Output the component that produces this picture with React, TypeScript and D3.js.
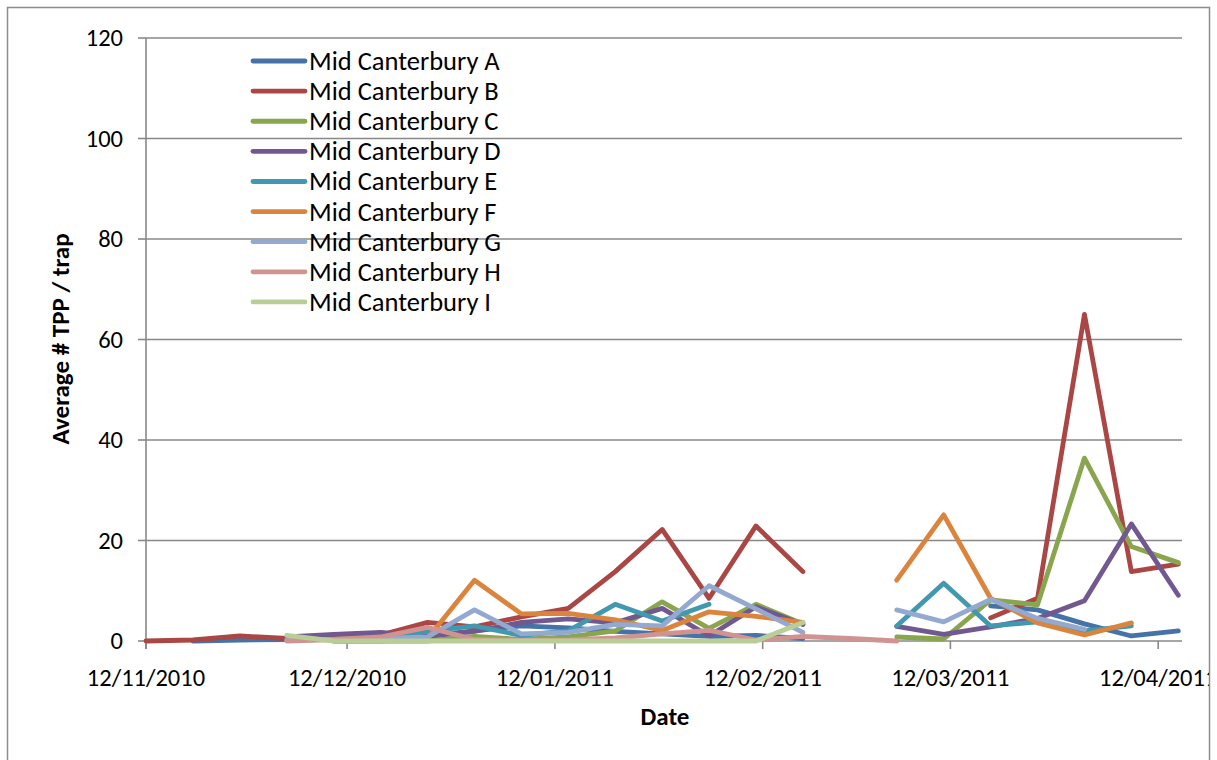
import React from 'react';
import * as d3 from 'd3';

const dates = [
  "2010-11-12", "2010-11-19", "2010-11-26", "2010-12-03", "2010-12-10", "2010-12-17",
  "2010-12-24", "2010-12-31", "2011-01-07", "2011-01-14", "2011-01-21", "2011-01-28",
  "2011-02-04", "2011-02-11", "2011-02-18", "2011-02-25", "2011-03-04", "2011-03-11",
  "2011-03-18", "2011-03-25", "2011-04-01", "2011-04-08", "2011-04-15",
];

const seriesNames = [
  "Mid Canterbury A", "Mid Canterbury B", "Mid Canterbury C", "Mid Canterbury D",
  "Mid Canterbury E", "Mid Canterbury F", "Mid Canterbury G", "Mid Canterbury H",
  "Mid Canterbury I",
];

const seriesA = [null, 0, 0.2, 0.3, 0.5, 0.5, 1.0, 2.0, 3.0, 2.6, 1.9, 1.4, 0.9, 1.1, 0.5, null, null, null, 7.0, 6.2, 3.4, 1.0, 2.0];
const seriesB = [0, 0.2, 1.0, 0.5, 0.6, 1.2, 3.7, 2.8, 4.8, 6.5, 13.8, 22.2, 8.5, 22.9, 13.8, null, null, null, 4.6, 8.5, 65, 13.8, 15.3];
const seriesC = [null, null, null, null, 0, 0, 0, 0.9, 0.3, 0.8, 2.0, 7.8, 2.5, 7.3, 3.4, null, 0.8, 0.4, 8.2, 7.2, 36.4, 18.8, 15.6];
const seriesD = [null, null, null, 0.8, 1.3, 1.7, 0.9, 1.9, 3.7, 4.4, 3.6, 6.5, 1.0, 6.8, 3.3, null, 2.9, 1.3, 2.8, 4.5, 8.0, 23.3, 9.1];
const seriesE = [null, null, null, null, 0.3, 0.5, 1.9, 3.0, 1.1, 2.0, 7.3, 4.0, 7.3, null, null, null, 3.0, 11.5, 3.0, 3.8, 2.0, 3.0, null];
const seriesF = [null, null, null, null, 0, 0, 0.5, 12.1, 5.4, 5.5, 4.2, 2.1, 5.8, 4.9, 3.7, null, 12.1, 25.1, 8.5, 3.6, 1.2, 3.6, null];
const seriesG = [null, null, null, 0.2, 0.3, 0.5, 0.8, 6.2, 1.4, 1.7, 3.3, 3.0, 11.0, 6.4, 1.7, null, 6.2, 3.8, 8.3, 4.5, 2.3, null, null];
const seriesH = [null, null, null, 0, 0.3, 0.8, 2.7, 0.3, 0.1, 0.2, 0.6, 1.4, 2.1, 0.2, 0.9, 0.5, 0, null, null, null, null, null, null];
const seriesI = [null, null, null, 1.1, 0, 0, 0, 0, 0, 0, 0, 0, 0, 0, 3.7, null, null, null, null, null, null, null, null];

const seriesValues = [seriesA, seriesB, seriesC, seriesD, seriesE, seriesF, seriesG, seriesH, seriesI];

const seriesColors = [
  "#4572A7", "#AA4643", "#89A54E", "#71588F", "#4198AF",
  "#DB843D", "#93A9CF", "#D19392", "#B9CD96",
];

const yTicks = [0, 20, 40, 60, 80, 100, 120];
const xTickDates = ["2010-11-12", "2010-12-12", "2011-01-12", "2011-02-12", "2011-03-12", "2011-04-12"];
const xDomain = ["2010-11-12", "2011-04-16"];

const FONT = "Carlito, Calibri, Lato, 'Open Sans', sans-serif";

export default function App() {
  const parse = d3.timeParse("%Y-%m-%d");
  const fmt = d3.timeFormat("%d/%m/%Y");
  const left = 146;
  const plotRight = 1182;
  const x = d3.scaleTime()
    .domain([parse(xDomain[0]) as Date, parse(xDomain[1]) as Date])
    .range([left, 1185]);
  const y = d3.scaleLinear().domain([0, 120]).range([641, 38]);

  const line = d3.line<{ d: Date; v: number | null }>()
    .defined((p) => p.v !== null && p.v !== undefined)
    .x((p) => x(p.d))
    .y((p) => y(p.v as number));

  const parsedDates = dates.map((s) => parse(s) as Date);
  const gridColor = "#888888";

  return (
    <svg
      width={1217}
      height={760}
      style={{ position: "absolute", left: 0, top: 0, background: "#fff" }}
      fontFamily={FONT}
    >
      <defs>
        <clipPath id="frameClip">
          <rect x={0} y={0} width={1209} height={760} />
        </clipPath>
      </defs>
      <rect x={0} y={0} width={1217} height={760} fill="#fff" />
      <rect x={7.5} y={7.5} width={1202} height={770} fill="none" stroke="#8c8c8c" strokeWidth={1.5} />

      {/* gridlines */}
      {yTicks.map((t) => (
        <g key={"g" + t}>
          <line x1={left} x2={plotRight} y1={y(t)} y2={y(t)} stroke={gridColor} strokeWidth={1.6} />
          <line x1={left - 8} x2={left} y1={y(t)} y2={y(t)} stroke={gridColor} strokeWidth={1.6} />
          <text x={123} y={y(t)} textAnchor="end" dominantBaseline="central" fontSize={24.5} fill="#000">
            {t}
          </text>
        </g>
      ))}
      {/* y axis */}
      <line x1={left} x2={left} y1={y(120)} y2={y(0) + 8} stroke={gridColor} strokeWidth={1.6} />

      {/* x ticks */}
      <g clipPath="url(#frameClip)">
        {xTickDates.map((s) => {
          const d = parse(s) as Date;
          return (
            <g key={s}>
              <line x1={x(d)} x2={x(d)} y1={y(0)} y2={y(0) + 8} stroke={gridColor} strokeWidth={1.6} />
              <text x={x(d)} y={678} textAnchor="middle" dominantBaseline="central" fontSize={24.5} fill="#000">
                {fmt(d)}
              </text>
            </g>
          );
        })}
      </g>

      {/* data lines */}
      {seriesValues.map((vals, i) => (
        <path
          key={seriesNames[i]}
          d={line(parsedDates.map((d, k) => ({ d, v: vals[k] }))) || ""}
          fill="none"
          stroke={seriesColors[i]}
          strokeWidth={4.8}
          strokeLinejoin="round"
          strokeLinecap="round"
        />
      ))}

      {/* legend */}
      {seriesNames.map((name, i) => {
        const ly = 61 + i * 30.12;
        return (
          <g key={"l" + name}>
            <line x1={253} x2={305} y1={ly} y2={ly} stroke={seriesColors[i]} strokeWidth={4.8} strokeLinecap="round" />
            <text x={309} y={ly} dominantBaseline="central" fontSize={26.5} fill="#000">
              {name}
            </text>
          </g>
        );
      })}

      {/* axis titles */}
      <text x={665} y={716} textAnchor="middle" dominantBaseline="central" fontSize={25} fontWeight="bold" fill="#000">
        Date
      </text>
      <text
        transform={`translate(60, 339) rotate(-90)`}
        textAnchor="middle"
        dominantBaseline="central"
        fontSize={25}
        fontWeight="bold"
        fill="#000"
      >
        Average # TPP / trap
      </text>
    </svg>
  );
}
